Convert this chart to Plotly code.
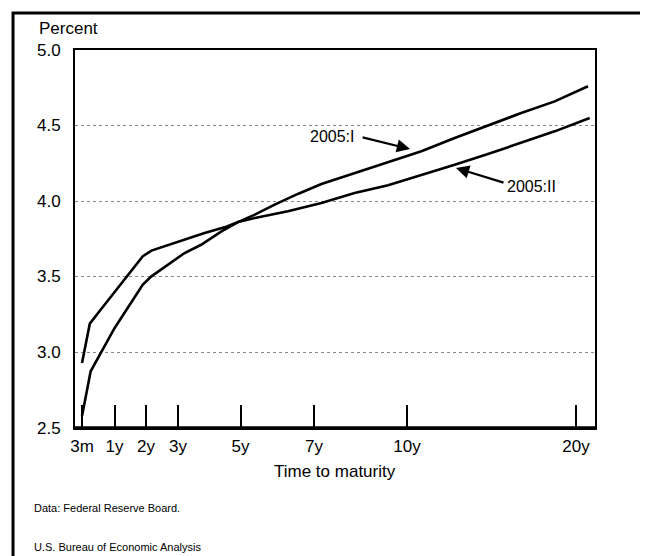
import numpy as np
import plotly.graph_objects as go

# ---------------- data ----------------
# maturity (years) and yield (percent)
mat_2005_1 = [0.25, 0.45, 1.0, 1.43, 1.90, 2.17, 2.69, 3.21, 3.74, 4.39, 4.92, 5.39,
              5.93, 6.56, 7.24, 8.31, 9.39, 10.85, 12.82, 14.79, 16.76, 18.74, 20.71]
yld_2005_1 = [2.58, 2.875, 3.16, 3.295, 3.448, 3.503, 3.58, 3.657, 3.712, 3.80, 3.862, 3.911,
              3.977, 4.048, 4.114, 4.187, 4.259, 4.33, 4.418, 4.502, 4.583, 4.66, 4.76]

mat_2005_2 = [0.25, 0.43, 0.73, 1.90, 2.17, 3.32, 3.85, 4.49, 4.92, 5.39, 6.29,
              7.24, 8.31, 9.39, 10.85, 12.82, 14.79, 16.76, 18.74, 20.81]
yld_2005_2 = [2.93, 3.19, 3.30, 3.636, 3.673, 3.757, 3.79, 3.827, 3.862, 3.889, 3.933,
              3.988, 4.054, 4.105, 4.171, 4.241, 4.312, 4.385, 4.462, 4.55]

tick_years = [0.25, 1, 2, 3, 5, 7, 10, 20]
tick_labels = ["3m", "1y", "2y", "3y", "5y", "7y", "10y", "20y"]
y_ticks = [2.5, 3.0, 3.5, 4.0, 4.5, 5.0]

# ---------------- x scale (non-uniform maturity axis of the original) ----------------
scale_pos = [7, 39.5, 71, 103, 165.5, 239, 332, 501]   # axis units for tick_years


def xs(years):
    years = np.asarray(years, dtype=float)
    out = np.interp(years, tick_years, scale_pos)
    slope = (scale_pos[-1] - scale_pos[-2]) / (tick_years[-1] - tick_years[-2])
    out = np.where(years > tick_years[-1], scale_pos[-1] + (years - tick_years[-1]) * slope, out)
    return out


FONT = "Liberation Sans, Arial, Helvetica, sans-serif"

fig = go.Figure()
fig.add_trace(go.Scatter(x=xs(mat_2005_1), y=yld_2005_1, mode="lines", name="2005:I",
                         line=dict(color="black", width=2.6), showlegend=False))
fig.add_trace(go.Scatter(x=xs(mat_2005_2), y=yld_2005_2, mode="lines", name="2005:II",
                         line=dict(color="black", width=2.6), showlegend=False))

fig.update_layout(
    width=648, height=556,
    margin=dict(l=67, r=61, t=42, b=136),
    paper_bgcolor="white", plot_bgcolor="white",
    font=dict(family=FONT, size=17, color="black"),
    xaxis=dict(range=[0, 520], tickvals=xs(tick_years), ticktext=tick_labels,
               ticks="inside", ticklen=23, tickwidth=2, tickcolor="black",
               showgrid=False, zeroline=False, showline=True, linecolor="black",
               linewidth=2, mirror=True, ticklabelstandoff=2,
               tickfont=dict(size=17)),
    yaxis=dict(range=[2.5, 5.0], tickvals=y_ticks, showticklabels=False,
               ticks="", showgrid=True, gridcolor="#888", griddash="dot", gridwidth=1,
               zeroline=False, showline=True, linecolor="black", linewidth=2, mirror=True),
)

# y tick labels placed on the y scale
for v in y_ticks:
    fig.add_annotation(text=f"{v:.1f}", xref="paper", yref="y", x=-0.0231, y=v,
                       xanchor="right", yanchor="middle", showarrow=False,
                       font=dict(size=17))

# heavier bottom axis line
fig.add_shape(type="line", xref="paper", yref="paper", x0=0, x1=1, y0=0, y1=0,
              line=dict(color="black", width=3.5))

# outer frame
fig.add_shape(type="rect", xref="paper", yref="paper",
              x0=-0.1192, x1=1.1115, y0=-0.40, y1=1.098,
              line=dict(color="black", width=3))

# labels
fig.add_annotation(text="Percent", xref="paper", yref="paper", x=-0.0731, y=1.058,
                   xanchor="left", yanchor="middle", showarrow=False, font=dict(size=17))
fig.add_annotation(text="Time to maturity", xref="paper", yref="paper", x=0.5, y=-0.114,
                   xanchor="center", yanchor="middle", showarrow=False, font=dict(size=17))
fig.add_annotation(text="Data: Federal Reserve Board.", xref="paper", yref="paper",
                   x=-0.0827, y=-0.2116, xanchor="left", yanchor="middle", showarrow=False,
                   font=dict(size=11))
fig.add_annotation(text="U.S. Bureau of Economic Analysis", xref="paper", yref="paper",
                   x=-0.0827, y=-0.3148, xanchor="left", yanchor="middle", showarrow=False,
                   font=dict(size=11))

# series labels with arrows
fig.add_annotation(text="2005:I", x=float(xs(7.58)), y=4.425, showarrow=False,
                   xanchor="center", yanchor="middle", font=dict(size=16))
fig.add_annotation(text="", x=float(xs(10.18)), y=4.345, ax=float(xs(8.52)), ay=4.425,
                   axref="x", ayref="y", showarrow=True, arrowhead=2, arrowsize=1.2,
                   arrowwidth=2.2, arrowcolor="black")
fig.add_annotation(text="2005:II", x=float(xs(17.34)), y=4.094, showarrow=False,
                   xanchor="center", yanchor="middle", font=dict(size=16))
fig.add_annotation(text="", x=float(xs(12.9)), y=4.22, ax=float(xs(15.8)), ay=4.12,
                   axref="x", ayref="y", showarrow=True, arrowhead=2, arrowsize=1.2,
                   arrowwidth=2.2, arrowcolor="black")

fig.write_html("out.html")
